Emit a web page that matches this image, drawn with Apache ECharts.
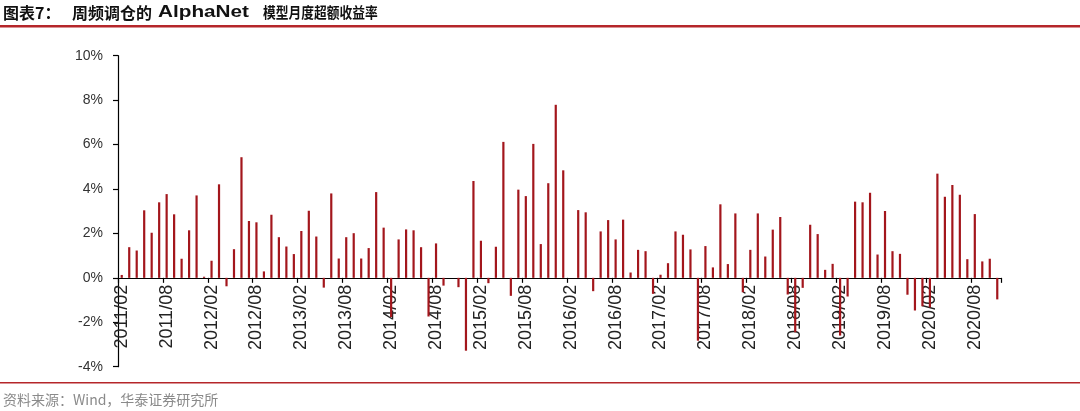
<!DOCTYPE html>
<html>
<head>
<meta charset="utf-8">
<script src="https://cdn.jsdelivr.net/npm/echarts@6/dist/echarts.min.js"></script>
<style>
html,body{margin:0;padding:0;background:#fff;}
#c{width:1080px;height:411px;}
</style>
</head>
<body>
<div id="c"></div>
<script>
// Months from 2011/02 to 2020/11
const startYear = 2011, startMonth = 2, monthCount = 118;
const months = [];
for (let i = 0; i < monthCount; i++) {
  const m = startMonth - 1 + i;
  const y = startYear + Math.floor(m / 12);
  const mm = (m % 12) + 1;
  months.push(y + '/' + (mm < 10 ? '0' + mm : '' + mm));
}

// Monthly excess return (%)
const excessReturn = [
  0.13, 1.38, 1.23, 3.04, 2.03, 3.40, 3.77, 2.86, 0.86, 2.14, 3.71, 0.05,
  0.77, 4.21, -0.38, 1.29, 5.43, 2.56, 2.50, 0.29, 2.84, 1.83, 1.41, 1.07,
  2.11, 3.02, 1.86, -0.44, 3.80, 0.87, 1.83, 2.01, 0.87, 1.34, 3.86, 2.26,
  -1.77, 1.73, 2.18, 2.14, 1.38, -1.74, 1.55, -0.35, 0.00, -0.42, -3.28, 4.36,
  1.67, -0.24, 1.40, 6.12, -0.81, 3.97, 3.68, 6.03, 1.52, 4.26, 7.79, 4.84,
  0.00, 3.05, 2.95, -0.60, 2.09, 2.60, 1.73, 2.62, 0.24, 1.26, 1.20, -0.72,
  0.14, 0.66, 2.09, 1.94, 1.28, -2.83, 1.43, 0.47, 3.31, 0.62, 2.90, -0.65,
  1.26, 2.90, 0.96, 2.17, 2.74, -0.75, -2.45, -0.45, 2.39, 1.97, 0.36, 0.63,
  -2.60, -0.84, 3.43, 3.40, 3.83, 1.05, 3.01, 1.20, 1.08, -0.76, -1.47, -1.28,
  -1.33, 4.69, 3.65, 4.18, 3.74, 0.84, 2.87, 0.74, 0.86, -0.97
];

const yTicks = { min: -4, max: 10, interval: 2 };

const titleParts = ['图表7：', '周频调仓的', 'AlphaNet', '模型月度超额收益率'];
const sourceText = '资料来源：Wind，华泰证券研究所';

const gridTop = 55.7, gridBottom = 44.3, chartH = 411;
const gridH = chartH - gridTop - gridBottom;
// place the category axis (line, ticks and labels) on the zero line of the value scale
const zeroOffset = -((0 - yTicks.min) / (yTicks.max - yTicks.min)) * gridH;

const chart = echarts.init(document.getElementById('c'), null, { renderer: 'canvas' });
const red = '#b5262a';
chart.setOption({
  animation: false,
  backgroundColor: '#fff',
  grid: { left: 118, right: 79, top: gridTop, bottom: gridBottom, containLabel: false },
  xAxis: {
    type: 'category',
    data: months,
    boundaryGap: true,
    offset: zeroOffset,
    axisLine: { onZero: false, lineStyle: { color: '#000', width: 1.2 } },
    axisTick: { show: true, interval: 5, alignWithLabel: false, length: 5, lineStyle: { color: '#000', width: 1.2 } },
    axisLabel: {
      interval: 5, rotate: 90, fontSize: 18, color: '#222', margin: 7,
      fontFamily: 'Liberation Sans, Arial, sans-serif'
    },
    splitLine: { show: false },
    z: 2
  },
  yAxis: {
    type: 'value',
    min: yTicks.min, max: yTicks.max, interval: yTicks.interval,
    axisLine: { show: true, lineStyle: { color: '#000', width: 1.2 } },
    axisTick: { show: true, inside: false, length: 5, lineStyle: { color: '#000', width: 1.2 } },
    axisLabel: {
      formatter: '{value}%', fontSize: 14, color: '#333', margin: 15,
      fontFamily: 'Liberation Sans, Arial, sans-serif'
    },
    splitLine: { show: false }
  },
  series: [{
    type: 'bar',
    data: excessReturn,
    barWidth: 2.2,
    itemStyle: { color: '#a3161c' },
    z: 3
  }],
  graphic: [
    { type: 'text', left: 3, top: 5, style: { text: titleParts[0], font: 'bold 16px "Noto Sans CJK SC", sans-serif', fill: '#111' } },
    { type: 'text', left: 72, top: 5, style: { text: titleParts[1], font: 'bold 16px "Noto Sans CJK SC", sans-serif', fill: '#111' } },
    { type: 'text', x: 158, y: 4, scaleX: 1.22, style: { text: titleParts[2], font: 'bold 17px "Liberation Sans", Arial, sans-serif', fill: '#111' } },
    { type: 'text', x: 263, y: 5, scaleX: 0.85, style: { text: titleParts[3], font: 'bold 15px "Noto Sans CJK SC", sans-serif', fill: '#111' } },
    { type: 'rect', shape: { x: 0, y: 25, width: 1080, height: 2.5 }, style: { fill: red } },
    { type: 'rect', shape: { x: 0, y: 382, width: 1080, height: 1.5 }, style: { fill: red } },
    { type: 'text', left: 3, top: 393, style: { text: sourceText, font: '14px "Noto Sans CJK SC", sans-serif', fill: '#8a8a8a' } }
  ]
});
</script>
</body>
</html>
